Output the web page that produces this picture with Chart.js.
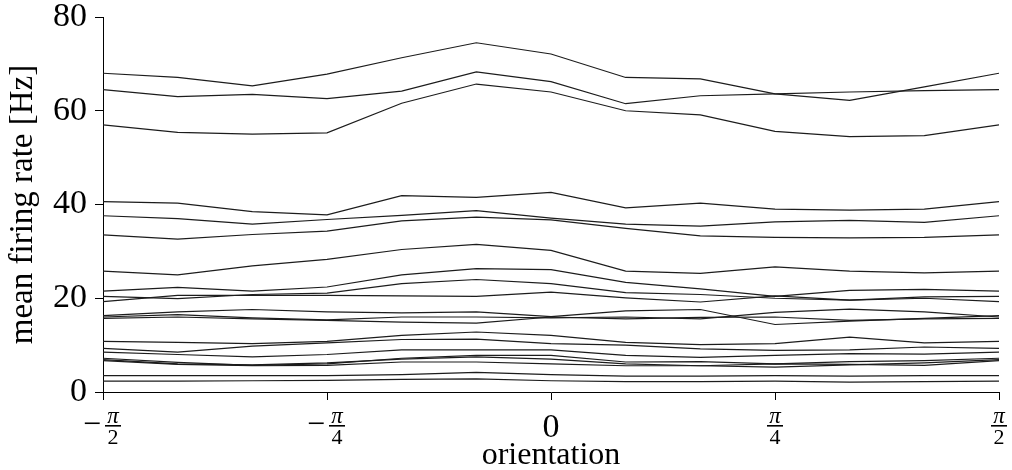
<!DOCTYPE html>
<html>
<head>
<meta charset="utf-8">
<script src="https://cdn.jsdelivr.net/npm/chart.js@4"></script>
<style>
  html, body { margin: 0; padding: 0; background: #fff; }
</style>
</head>
<body>
<canvas id="rates" width="1012" height="470"></canvas>
<script>
// stimulus orientation in degrees (plotted as fractions of pi)
const orientations = [-90, -75, -60, -45, -30, -15, 0, 15, 30, 45, 60, 75, 90];

// mean firing rate [Hz] of each recorded unit per orientation
const unit1  = [68.0, 67.1, 65.3, 67.8, 71.3, 74.5, 72.1, 67.1, 66.8, 63.6, 62.2, 65.1, 68.0];
const unit2  = [64.5, 63.0, 63.5, 62.6, 64.2, 68.3, 66.2, 61.5, 63.2, 63.6, 64.0, 64.3, 64.5];
const unit3  = [57.0, 55.4, 55.0, 55.3, 61.6, 65.7, 64.0, 60.0, 59.1, 55.6, 54.5, 54.7, 57.0];
const unit4  = [40.6, 40.3, 38.5, 37.8, 41.9, 41.5, 42.6, 39.3, 40.3, 39.0, 38.8, 39.0, 40.6];
const unit5  = [37.6, 37.0, 35.8, 36.8, 37.7, 38.7, 37.1, 35.8, 35.4, 36.3, 36.6, 36.2, 37.6];
const unit6  = [33.5, 32.6, 33.6, 34.3, 36.5, 37.3, 36.7, 34.9, 33.3, 33.0, 32.9, 33.0, 33.5];
const unit7  = [25.8, 25.0, 26.9, 28.3, 30.4, 31.5, 30.2, 25.8, 25.3, 26.7, 25.8, 25.4, 25.8];
const unit8  = [21.5, 22.3, 21.5, 22.4, 25.0, 26.3, 26.1, 23.4, 22.0, 20.4, 21.7, 21.9, 21.5];
const unit9  = [20.4, 19.9, 20.8, 21.1, 23.1, 24.0, 23.1, 21.2, 20.8, 20.0, 19.6, 20.3, 20.4];
const unit10 = [19.3, 20.6, 20.6, 20.6, 20.5, 20.4, 21.3, 20.1, 19.2, 20.5, 19.6, 20.0, 19.3];
const unit11 = [16.3, 17.1, 17.6, 17.1, 16.9, 17.1, 16.1, 17.3, 17.6, 14.4, 15.1, 15.7, 16.3];
const unit12 = [16.0, 16.5, 15.8, 15.4, 16.0, 16.0, 15.8, 16.0, 15.6, 17.0, 17.7, 17.1, 16.0];
const unit13 = [15.7, 16.0, 15.6, 15.3, 14.9, 14.7, 16.0, 15.6, 15.9, 16.0, 15.3, 15.6, 15.7];
const unit14 = [10.8, 10.6, 10.3, 10.8, 12.1, 12.8, 12.1, 10.6, 10.1, 10.3, 11.7, 10.5, 10.8];
const unit15 = [9.3, 8.5, 9.8, 10.5, 11.2, 11.3, 10.3, 10.0, 9.2, 8.9, 9.0, 9.6, 9.3];
const unit16 = [8.5, 8.0, 7.5, 8.0, 9.0, 9.0, 9.0, 7.8, 7.4, 7.8, 8.2, 8.1, 8.5];
const unit17 = [7.2, 6.3, 5.7, 6.0, 7.2, 7.8, 7.8, 6.4, 6.5, 6.0, 6.5, 6.7, 7.2];
const unit18 = [6.9, 6.0, 5.8, 6.2, 7.0, 7.5, 7.0, 6.0, 5.6, 5.3, 5.8, 6.2, 6.9];
const unit19 = [6.7, 5.9, 5.6, 5.7, 6.4, 6.4, 6.0, 5.6, 5.6, 6.0, 5.9, 5.7, 6.7];
const unit20 = [3.5, 3.5, 3.5, 3.5, 3.7, 4.2, 3.7, 3.4, 3.4, 3.5, 3.4, 3.5, 3.5];
const unit21 = [2.3, 2.3, 2.4, 2.5, 2.7, 2.8, 2.4, 2.2, 2.2, 2.3, 2.1, 2.2, 2.3];

const units = [unit1, unit2, unit3, unit4, unit5, unit6, unit7, unit8, unit9, unit10, unit11,
  unit12, unit13, unit14, unit15, unit16, unit17, unit18, unit19, unit20, unit21];

// x ticks and their pi-fraction labels
const xTicks = [-90, -45, 0, 45, 90];
const xTickText = ['−π/2', '−π/4', '0', 'π/4', 'π/2'];
const yTicks = [0, 20, 40, 60, 80];

const serif = '"Liberation Serif", "Times New Roman", serif';

// draws the x tick labels as stacked fractions under each tick mark
const fracTicks = {
  id: 'fracTicks',
  afterDraw(chart) {
    const { ctx, scales: { x } } = chart;
    const top = x.top;
    ctx.save();
    ctx.fillStyle = '#000';
    ctx.textAlign = 'center';
    ctx.textBaseline = 'alphabetic';
    xTicks.forEach((v, i) => {
      const px = x.getPixelForValue(v);
      const txt = xTickText[i];
      if (!txt.includes('/')) {
        ctx.font = '34px ' + serif;
        ctx.fillText(txt, px, top + 45);
        return;
      }
      const neg = txt.startsWith('−');
      const [num, den] = txt.replace('−', '').split('/');
      const fx = neg ? px + 10 : px;
      if (neg) {
        ctx.font = '32px ' + serif;
        ctx.fillText('−', px - 11, top + 42);
      }
      ctx.font = 'italic 23px ' + serif;
      ctx.fillText(num, fx, top + 31);
      ctx.fillRect(fx - 8, top + 33, 16, 1.6);
      ctx.font = '22px ' + serif;
      ctx.fillText(den, fx, top + 52);
    });
    ctx.restore();
  }
};

new Chart(document.getElementById('rates'), {
  type: 'line',
  data: {
    datasets: units.map((u, i) => ({
      label: 'unit ' + (i + 1),
      data: orientations.map((o, j) => ({ x: o, y: u[j] })),
      borderColor: '#1c1c1c',
      borderWidth: 1.2,
      pointRadius: 0,
      tension: 0,
      fill: false
    }))
  },
  options: {
    responsive: false,
    animation: false,
    layout: { padding: { left: 0, right: 13, top: 17, bottom: 0 } },
    plugins: { legend: { display: false }, tooltip: { enabled: false } },
    scales: {
      x: {
        type: 'linear',
        min: -90,
        max: 90,
        afterBuildTicks: (s) => { s.ticks = xTicks.map(v => ({ value: v })); },
        afterFit: (s) => { s.height = 78; },
        ticks: { autoSkip: false, callback: () => '' },
        grid: { drawOnChartArea: false, drawTicks: true, tickLength: 8, color: '#000', lineWidth: 1 },
        border: { display: true, color: '#000', width: 1 },
        title: {
          display: true,
          text: 'orientation',
          color: '#000',
          font: { family: serif, size: 32, lineHeight: 0.9 },
          padding: { top: 0, bottom: 0 }
        }
      },
      y: {
        min: 0,
        max: 80,
        afterBuildTicks: (s) => { s.ticks = yTicks.map(v => ({ value: v })); },
        afterFit: (s) => { s.width = 103; },
        ticks: { color: '#000', padding: 8, font: { family: serif, size: 34, lineHeight: 0.5 } },
        grid: { drawOnChartArea: false, drawTicks: true, tickLength: 8, color: '#000', lineWidth: 1 },
        border: { display: true, color: '#000', width: 1 },
        title: {
          display: true,
          text: 'mean firing rate [Hz]',
          color: '#000',
          font: { family: serif, size: 33, lineHeight: 1 },
          padding: { top: 7, bottom: 0 }
        }
      }
    }
  },
  plugins: [fracTicks]
});
</script>
</body>
</html>
